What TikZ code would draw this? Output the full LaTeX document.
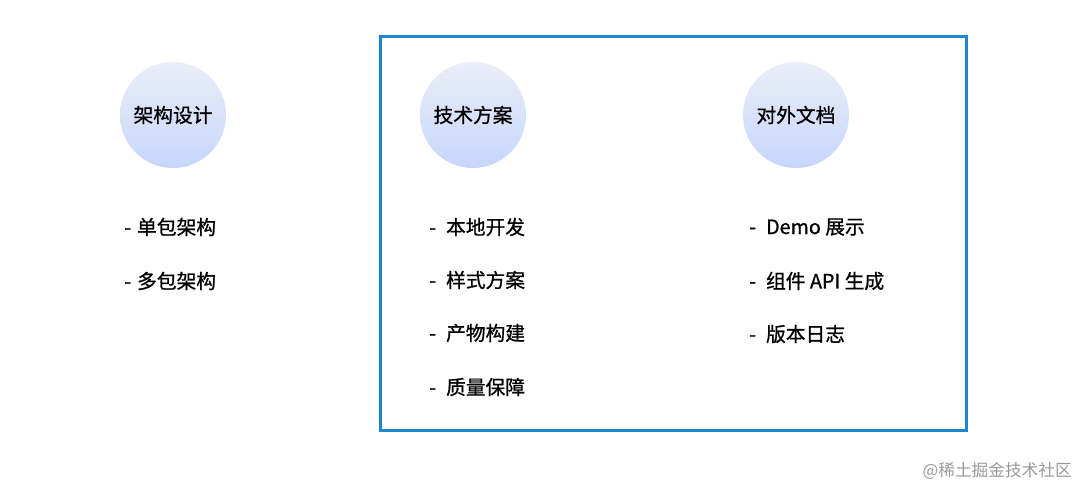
\documentclass[tikz,border=0pt]{standalone}
\usepackage{fontspec}
\setmainfont{Noto Sans CJK SC}[FakeBold=0.9]
\newfontfamily\wmfont{Noto Sans CJK SC}
\definecolor{boxblue}{HTML}{1E86CC}
\definecolor{circtop}{HTML}{EAEEF7}
\definecolor{circbot}{HTML}{C6D6FB}
\definecolor{wmgray}{HTML}{9A9A9A}
\begin{document}
\begin{tikzpicture}[x=0.75pt,y=-0.75pt,
  topic/.style={circle,minimum size=79.5pt,inner sep=0pt,top color=circtop,bottom color=circbot,draw=none,font=\fontsize{14.8}{16}\selectfont},
  item/.style={anchor=west,inner sep=0pt,font=\fontsize{14.8}{16}\selectfont},
  frame/.style={draw=boxblue,line width=2.2pt}]
\useasboundingbox[fill=white] (0,0) rectangle (1088,500);
\node[frame,minimum width=439.5pt,minimum height=295.5pt,anchor=north west,inner sep=0pt] (box) at (379,35) {};
\node[topic] (c1) at (173,115) {架构设计};
\node[topic] (c2) at (473,115) {技术方案};
\node[topic] (c3) at (796,115) {对外文档};
\node[item] (a1) at (124,227) {-\hspace{4.5pt}单包架构};
\node[item] (a2) at (124,281) {-\hspace{4.5pt}多包架构};
\node[item] (b1) at (429,227) {-\hspace{7.5pt}本地开发};
\node[item] (b2) at (429,280) {-\hspace{7.5pt}样式方案};
\node[item] (b3) at (429,333) {-\hspace{7.5pt}产物构建};
\node[item] (b4) at (429,387) {-\hspace{7.5pt}质量保障};
\node[item] (d1) at (749,227) {-\hspace{7.5pt}Demo 展示};
\node[item] (d2) at (749,281) {-\hspace{7.5pt}组件 API 生成};
\node[item] (d3) at (749,334) {-\hspace{7.5pt}版本日志};
\node[anchor=east,inner sep=0pt,text=wmgray,font=\wmfont\fontsize{12.5}{14}\selectfont] (wm) at (1072,471) {@稀土掘金技术社区};
\end{tikzpicture}
\end{document}
